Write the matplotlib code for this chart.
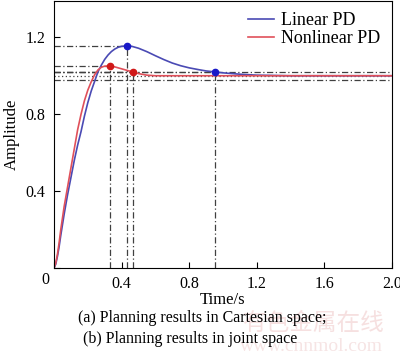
import matplotlib
matplotlib.use("Agg")
import matplotlib.pyplot as plt

plt.rcParams['font.family'] = ['Liberation Serif', 'DejaVu Serif']

# step responses
t_lin = [0, 0.01, 0.02, 0.03, 0.04, 0.06, 0.08, 0.10, 0.12, 0.14, 0.16, 0.18, 0.20, 0.22,
         0.24, 0.26, 0.28, 0.30, 0.32, 0.34, 0.36, 0.38, 0.40, 0.43, 0.46, 0.50, 0.55, 0.60,
         0.65, 0.70, 0.75, 0.80, 0.86, 0.90, 0.95, 1.00, 1.10, 1.20, 1.40, 2.00]
y_lin = [0, 0.02, 0.06, 0.11, 0.17, 0.28, 0.38, 0.47, 0.56, 0.64, 0.71, 0.79, 0.86, 0.92,
         0.97, 1.02, 1.055, 1.085, 1.108, 1.126, 1.139, 1.148, 1.153, 1.155, 1.153, 1.143, 1.125, 1.104,
         1.084, 1.066, 1.052, 1.041, 1.031, 1.025, 1.02, 1.015, 1.008, 1.003, 1.0, 1.0]

t_non = [0, 0.01, 0.02, 0.03, 0.04, 0.06, 0.08, 0.10, 0.12, 0.14, 0.16, 0.18, 0.20, 0.22,
         0.24, 0.26, 0.28, 0.30, 0.33, 0.36, 0.40, 0.44, 0.47, 0.50, 0.55, 0.60, 2.00]
y_non = [0, 0.025, 0.07, 0.13, 0.20, 0.32, 0.42, 0.52, 0.62, 0.72, 0.80, 0.87, 0.925, 0.968,
         1.005, 1.03, 1.044, 1.05, 1.051, 1.046, 1.036, 1.026, 1.02, 1.011, 1.003, 1.0, 1.0]

# marked points: (time, amplitude)
lin_marks = [(0.43, 1.155), (0.95, 1.02)]
non_marks = [(0.33, 1.051), (0.47, 1.02)]
band_levels = [1.02, 0.98]

xticks = [0, 0.4, 0.8, 1.2, 1.6, 2.0]
xticklabels = ['', '0.4', '0.8', '1.2', '1.6', '2.0']
yticks = [0, 0.4, 0.8, 1.2]
yticklabels = ['', '0.4', '0.8', '1.2']

fig = plt.figure(figsize=(4.0, 3.51), dpi=100)
ax = fig.add_axes([0.135, 0.236, 0.845, 0.762])

ref = dict(color='#404040', lw=0.9, ls=(0, (5, 2, 1, 2)))
for tm, am in lin_marks + non_marks:
    ax.plot([0, tm], [am, am], **ref)
    ax.plot([tm, tm], [0, am], **ref)
for lv in band_levels:
    ax.plot([0, 2.0], [lv, lv], **ref)
ax.plot([0, 2.0], [1.0, 1.0], color='#404040', lw=0.9, ls=(0, (1, 2)))

ax.plot(t_lin, y_lin, color='#4a4ab4', lw=1.2, label='Linear PD')
ax.plot(t_non, y_non, color='#e0505a', lw=1.2, label='Nonlinear PD')
ax.plot([m[0] for m in lin_marks], [m[1] for m in lin_marks], 'o',
        color='#1818c8', ms=4.5, zorder=5)
ax.plot([m[0] for m in non_marks], [m[1] for m in non_marks], 'o',
        color='#d01818', ms=4.5, zorder=5)

ax.set_xlim(0, 2.0)
ax.set_ylim(0, 1.39)
ax.set_xticks(xticks)
ax.set_xticklabels(xticklabels)
ax.set_yticks(yticks)
ax.set_yticklabels(yticklabels)
ax.tick_params(direction='in', length=4, width=0.8, labelsize=11.5, pad=6)
for s in ax.spines.values():
    s.set_linewidth(0.8)
ax.text(-0.015, -0.015, '0', transform=ax.transAxes, ha='right', va='top', fontsize=11.5)

ax.set_ylabel('Amplitude', fontsize=12, labelpad=4)
ax.set_xlabel('Time/s', fontsize=12, labelpad=0)

ax.legend(loc='upper right', frameon=False, fontsize=13, handlelength=1.45,
          handletextpad=0.4, labelspacing=0.05, borderaxespad=0.25)

fig.text(0.505, 0.083, '(a) Planning results in Cartesian space;', ha='center', fontsize=11.5)
fig.text(0.475, 0.022, '(b) Planning results in joint space', ha='center', fontsize=11.5)

# faint site watermark
fig.text(0.605, 0.06, '有色金属在线', fontsize=17, color='#f6e0e0', ha='left',
         family=['Noto Sans CJK SC', 'DejaVu Sans'], zorder=-1)
fig.text(0.60, 0.0, 'www.cnnmol.com', fontsize=14, color='#f6e4e4', ha='left', zorder=-1)

fig.savefig('out.png', dpi=100)
